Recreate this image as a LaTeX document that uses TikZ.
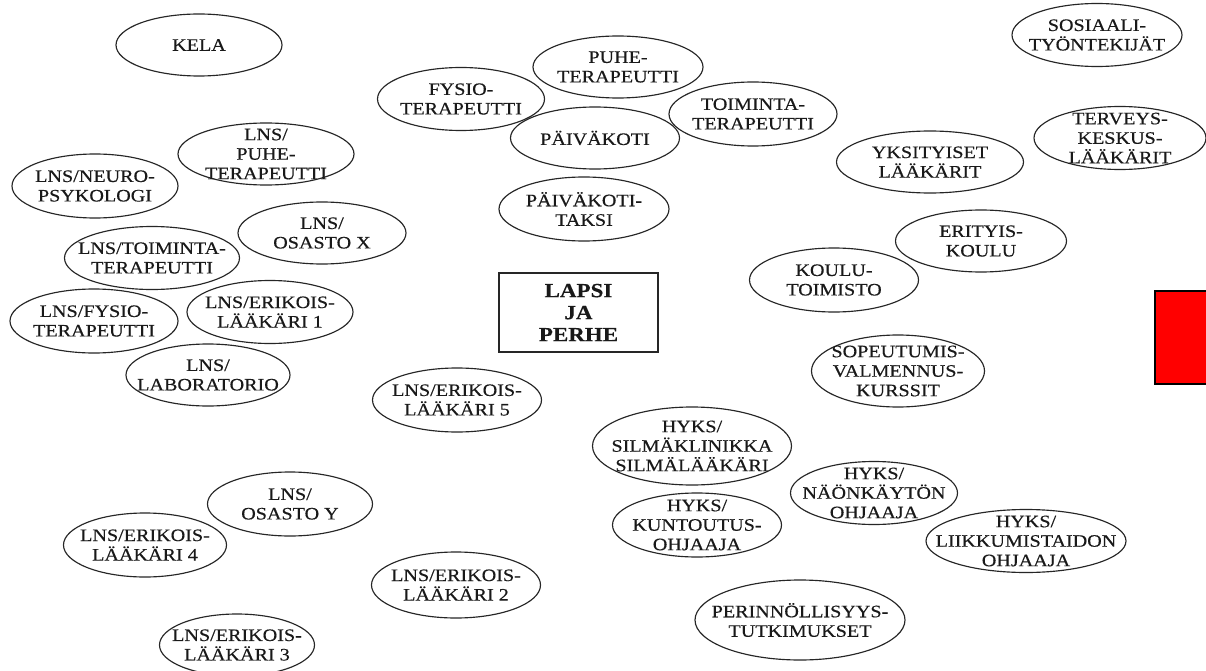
\documentclass[tikz,border=0pt]{standalone}
\usepackage{fontspec}
\setmainfont{Liberation Serif}[FakeStretch=1.15, FakeBold=0.4]
\usetikzlibrary{shapes.geometric}
\tikzset{
  bub/.style={draw=black!85, line width=1.15pt, ellipse, inner sep=0pt},
  lbl/.style={align=center, font=\fontsize{17.5}{19.5}\selectfont, text=black!90, inner sep=0pt},
  centre/.style={draw=black!85, line width=1.15pt, rectangle, inner sep=0pt, align=center,
    font=\fontsize{20}{22}\selectfont\bfseries, text=black!90},
}
\newcommand\bub[7]{%
  \node[bub, minimum width=#4pt, minimum height=#5pt] (#1) at (#2,#3) {};
  \node[#6] (#1-t) at (#1.center) {#7};}
\begin{document}
\begin{tikzpicture}[x=1pt,y=-1pt]
\useasboundingbox (0,0) rectangle (1206,671);
\fill[white] (0,0) rectangle (1206,671);
% upper centre
\bub{kela}{199}{45}{166}{62}{lbl}{KELA}
\bub{fysio}{461}{99}{167}{63}{lbl}{FYSIO-\\TERAPEUTTI}
\bub{puhe}{618}{67}{170}{62}{lbl}{PUHE-\\TERAPEUTTI}
\bub{toim}{753}{114}{168}{64}{lbl}{TOIMINTA-\\TERAPEUTTI}
\bub{paiv}{595}{138}{169}{62}{lbl}{PÄIVÄKOTI}
\bub{taksi}{584}{209}{170}{64}{lbl}{PÄIVÄKOTI-\\TAKSI}
% right
\bub{sos}{1097}{35}{170}{63}{lbl}{SOSIAALI-\\TYÖNTEKIJÄT}
\bub{terv}{1120}{138}{172}{63}{lbl}{TERVEYS-\\KESKUS-\\LÄÄKÄRIT}
\bub{yks}{930}{162}{187}{62}{lbl}{YKSITYISET\\LÄÄKÄRIT}
\bub{erit}{981}{241}{171}{62}{lbl}{ERITYIS-\\KOULU}
\bub{koulu}{834}{280}{169}{64}{lbl}{KOULU-\\TOIMISTO}
\bub{sopeut}{898}{371}{173}{72}{lbl}{SOPEUTUMIS-\\VALMENNUS-\\KURSSIT}
% centre box
\node[centre, minimum width=159pt, minimum height=79pt] (lapsi) at (578.5,312.5) {LAPSI\\JA\\PERHE};
% left
\bub{lnspuhe}{266}{154}{176}{62}{lbl}{LNS/\\PUHE-\\TERAPEUTTI}
\bub{neuro}{95}{186}{166}{64}{lbl}{LNS/NEURO-\\PSYKOLOGI}
\bub{osx}{322}{233}{168}{62}{lbl}{LNS/\\OSASTO X}
\bub{lnstoim}{152}{258}{175}{63}{lbl}{LNS/TOIMINTA-\\TERAPEUTTI}
\bub{lnsfys}{94}{321}{168}{64}{lbl}{LNS/FYSIO-\\TERAPEUTTI}
\bub{er1}{270}{312}{166}{63}{lbl}{LNS/ERIKOIS-\\LÄÄKÄRI 1}
\bub{lab}{208}{375}{164}{62}{lbl}{LNS/\\LABORATORIO}
\bub{er5}{457}{400}{169}{64}{lbl}{LNS/ERIKOIS-\\LÄÄKÄRI 5}
% lower right
\bub{silm}{692}{446}{199}{78}{lbl}{HYKS/\\SILMÄKLINIKKA\\SILMÄLÄÄKÄRI}
\bub{naon}{874}{493}{167}{63}{lbl}{HYKS/\\NÄÖNKÄYTÖN\\OHJAAJA}
\bub{kunt}{697}{525}{169}{64}{lbl}{HYKS/\\KUNTOUTUS-\\OHJAAJA}
\bub{liik}{1026}{541}{200}{63}{lbl}{HYKS/\\LIIKKUMISTAIDON\\OHJAAJA}
\bub{perin}{800}{620}{210}{80}{lbl}{PERINNÖLLISYYS-\\TUTKIMUKSET}
% lower left
\bub{osy}{290}{504}{165}{64}{lbl}{LNS/\\OSASTO Y}
\bub{er4}{145}{545}{163}{64}{lbl}{LNS/ERIKOIS-\\LÄÄKÄRI 4}
\bub{er2}{456}{585}{169}{66}{lbl}{LNS/ERIKOIS-\\LÄÄKÄRI 2}
\bub{er3}{237}{645}{155}{62}{lbl}{LNS/ERIKOIS-\\LÄÄKÄRI 3}
% red box cut by the right edge
\begin{scope}
\clip (0,0) rectangle (1206,671);
\node[draw=black, line width=1.5pt, fill=red, minimum width=70pt, minimum height=93pt, inner sep=0pt] (redbox) at (1190,337.5) {};
\end{scope}
\end{tikzpicture}
\end{document}
